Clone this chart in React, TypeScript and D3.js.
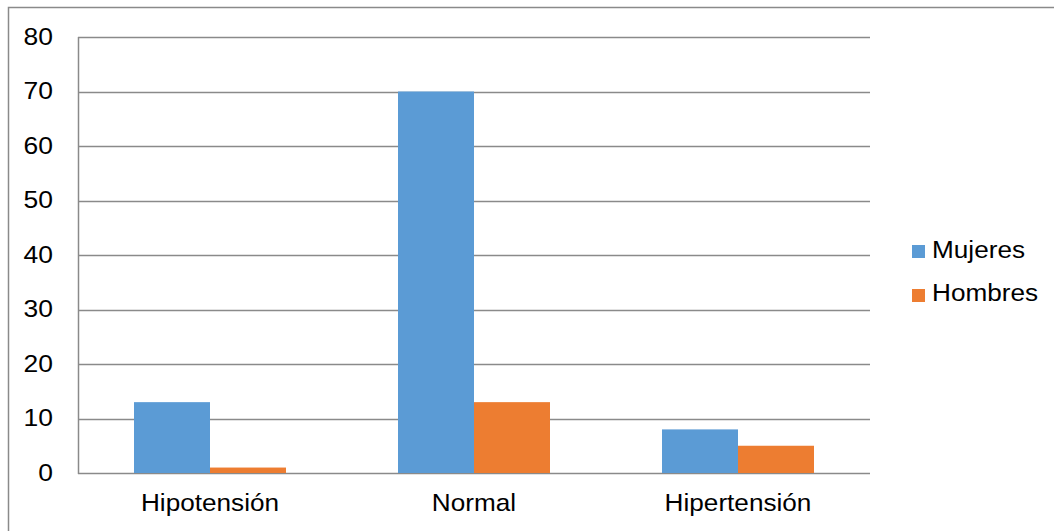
import React from "react";
import * as d3 from "d3";

const categories = ["Hipotensión", "Normal", "Hipertensión"];
const seriesNames = ["Mujeres", "Hombres"];
const mujeres = [13, 70, 8];
const hombres = [1, 13, 5];
const yTicks = [0, 10, 20, 30, 40, 50, 60, 70, 80];
const colors = ["#5B9BD5", "#ED7D31"];

const W = 1054;
const H = 531;
const left = 78;
const right = 870;
const top = 37;
const bottom = 473;
const FONT = "'Liberation Sans', Arial, sans-serif";

export default function App() {
  const x = d3.scaleBand<string>().domain(categories).range([left, right]).paddingInner(0).paddingOuter(0);
  const xs = d3.scaleBand<string>().domain(seriesNames).range([0, 152]);
  const y = d3.scaleLinear().domain([0, 80]).range([bottom, top]);
  const grid = "#8a8a8a";
  const series = [mujeres, hombres];

  const T = (px: number, py: number, text: string, anchor: string, size: number, sx: number, key?: string) => (
    <text
      key={key}
      transform={`translate(${px},${py}) scale(${sx},1)`}
      textAnchor={anchor}
      fontFamily={FONT}
      fontSize={size}
      fill="#000"
    >
      {text}
    </text>
  );

  return (
    <svg width={W} height={H} style={{ position: "absolute", left: 0, top: 0, background: "#fff" }}>
      <rect x={8.5} y={7.5} width={1100} height={600} fill="#fff" stroke={grid} strokeWidth={1.5} />
      {yTicks.map((t) => (
        <line key={"g" + t} x1={left} x2={right} y1={Math.round(y(t)) + 0.5} y2={Math.round(y(t)) + 0.5} stroke={grid} strokeWidth={1.5} />
      ))}
      {categories.map((c, i) => {
        const cx = (x(c) as number) + x.bandwidth() / 2 - 76;
        return series.map((s, j) => (
          <rect
            key={c + j}
            x={cx + (xs(seriesNames[j]) as number)}
            y={y(s[i])}
            width={xs.bandwidth()}
            height={bottom - y(s[i])}
            fill={colors[j]}
          />
        ));
      })}
      <line x1={left + 0.5} x2={left + 0.5} y1={top} y2={bottom + 1} stroke={grid} strokeWidth={1.5} />
      {yTicks.map((t) => T(53, y(t) + 7.5, String(t), "end", 23, 1.15, "t" + t))}
      {categories.map((c) => T((x(c) as number) + x.bandwidth() / 2, 511, c, "middle", 24, 1.09, "c" + c))}
      {seriesNames.map((n, j) => (
        <g key={n}>
          <rect x={912} y={245 + j * 44} width={13} height={13} fill={colors[j]} />
          {T(932, 258 + j * 43, n, "start", 24, 1.09)}
        </g>
      ))}
    </svg>
  );
}
